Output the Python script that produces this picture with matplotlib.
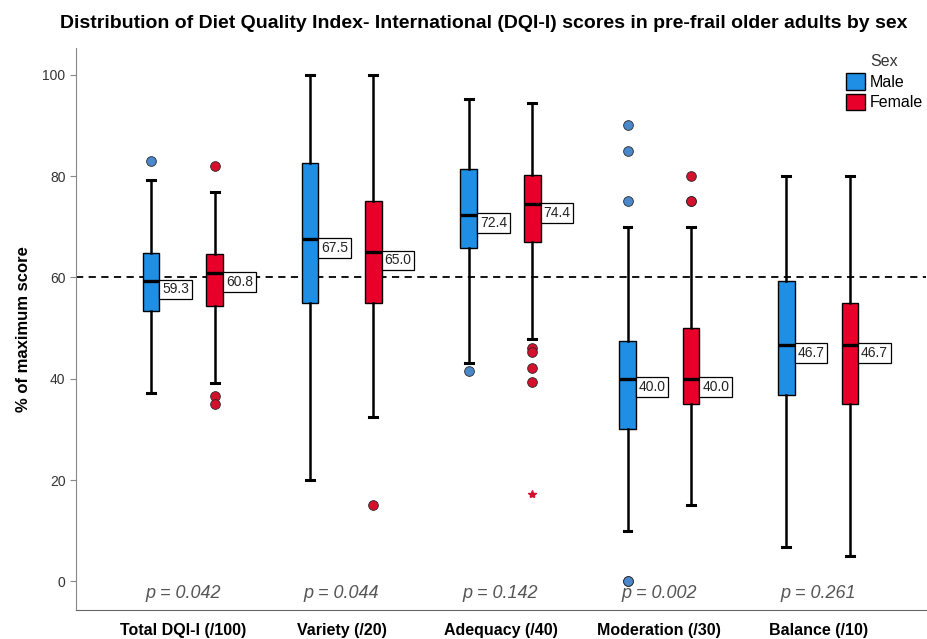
import numpy as np
import matplotlib.pyplot as plt
from matplotlib.patches import Patch

plt.rcParams['font.family'] = ['Liberation Sans', 'DejaVu Sans']

# components and p-values
categories = ['Total DQI-I (/100)', 'Variety (/20)', 'Adequacy (/40)',
              'Moderation (/30)', 'Balance (/10)']
p_values = ['0.042', '0.044', '0.142', '0.002', '0.261']

# box statistics (% of maximum score)
male_med = [59.3, 67.5, 72.4, 40.0, 46.7]
male_q1 = [53.4, 55.0, 65.9, 30.0, 36.7]
male_q3 = [64.9, 82.5, 81.4, 47.5, 59.2]
male_lo = [37.1, 20.0, 43.1, 10.0, 6.7]
male_hi = [79.2, 100.0, 95.2, 70.0, 80.0]
male_out = [[82.9], [], [41.6], [90.0, 85.0, 75.0, 0.0, 0.0], []]

female_med = [60.8, 65.0, 74.4, 40.0, 46.7]
female_q1 = [54.3, 55.0, 66.9, 35.0, 35.0]
female_q3 = [64.7, 75.0, 80.2, 50.0, 55.0]
female_lo = [39.1, 32.5, 47.8, 15.0, 5.0]
female_hi = [76.8, 100.0, 94.4, 70.0, 80.0]
female_out = [[81.9, 36.5, 35.0], [15.0], [46.0, 45.3, 42.2, 39.4], [80.0, 75.0, 75.0], []]
female_extreme = [[], [], [17.3], [], []]

cutoff = 60

male_col = '#1f8fe6'
female_col = '#e8002b'
male_flier = '#4a88cc'
female_flier = '#d4102c'

fig = plt.figure(figsize=(9.27, 6.39), dpi=100)
ax = fig.add_axes([0.082, 0.045, 0.917, 0.88])

x = np.arange(len(categories))
off = 0.2
bw = 0.105


def make_stats(med, q1, q3, lo, hi, out):
    return [dict(med=med[i], q1=q1[i], q3=q3[i], whislo=lo[i], whishi=hi[i],
                 fliers=out[i]) for i in range(len(med))]


def draw(stats, pos, face, fcol):
    ax.bxp(stats, positions=pos, widths=bw, capwidths=0.05, patch_artist=True,
           showfliers=True,
           boxprops=dict(facecolor=face, edgecolor='black', linewidth=1.0),
           medianprops=dict(color='black', linewidth=2.4),
           whiskerprops=dict(color='black', linewidth=1.8),
           capprops=dict(color='black', linewidth=2.2),
           flierprops=dict(marker='o', markerfacecolor=fcol, markeredgecolor='#2a2a2a',
                           markeredgewidth=0.6, markersize=7, linestyle='none'))


ax.axhline(cutoff, color='black', linestyle=(0, (4, 3)), linewidth=1.3, zorder=1)

draw(make_stats(male_med, male_q1, male_q3, male_lo, male_hi, male_out),
     x - off, male_col, male_flier)
draw(make_stats(female_med, female_q1, female_q3, female_lo, female_hi, female_out),
     x + off, female_col, female_flier)

for i, ext in enumerate(female_extreme):
    if ext:
        ax.plot([x[i] + off] * len(ext), ext, linestyle='none', marker='*',
                color=female_flier, markersize=6)

# median labels
for meds, sign in [(male_med, -1), (female_med, 1)]:
    for i, m in enumerate(meds):
        ax.annotate(f'{m:.1f}', xy=(x[i] + sign * off + bw / 2, m),
                    xytext=(2, -1), textcoords='offset points',
                    ha='left', va='top', fontsize=10, color='#222222',
                    bbox=dict(boxstyle='square,pad=0.2', facecolor='white',
                              edgecolor='black', linewidth=0.9))

# p-values
for i, p in enumerate(p_values):
    ax.text(x[i], -2.4, f'p = {p}', ha='center', va='center', fontsize=13,
            style='italic', color='#555555')

ax.set_xlim(-0.673, 4.68)
ax.set_ylim(-5.7, 105.3)
ax.set_xticks(x)
ax.set_xticklabels(categories, fontsize=11.5, fontweight='bold')
ax.tick_params(axis='x', length=0, pad=9)
ax.set_yticks([0, 20, 40, 60, 80, 100])
ax.tick_params(axis='y', length=4, color='#888888', labelsize=10, labelcolor='#333333')
ax.set_ylabel('% of maximum score', fontsize=12, fontweight='bold', labelpad=8)

for s in ['top', 'right']:
    ax.spines[s].set_visible(False)
ax.spines['left'].set_color('#888888')
ax.spines['bottom'].set_color('#666666')

fig.suptitle('Distribution of Diet Quality Index- International (DQI-I) scores in pre-frail older adults by sex',
             x=0.522, y=0.977, fontsize=14, fontweight='bold')

handles = [Patch(facecolor=male_col, edgecolor='black', label='Male'),
           Patch(facecolor=female_col, edgecolor='black', label='Female')]
leg = fig.legend(handles=handles, title='Sex', loc='upper right',
                 bbox_to_anchor=(1.006, 0.93), frameon=False, fontsize=11.5,
                 title_fontsize=11.5, handlelength=1.2, handleheight=1.2,
                 handletextpad=0.3, labelspacing=0.25, borderaxespad=0.2)
leg.get_title().set_color('#333333')
leg._legend_box.align = 'center'

fig.savefig('out.png', dpi=100)
